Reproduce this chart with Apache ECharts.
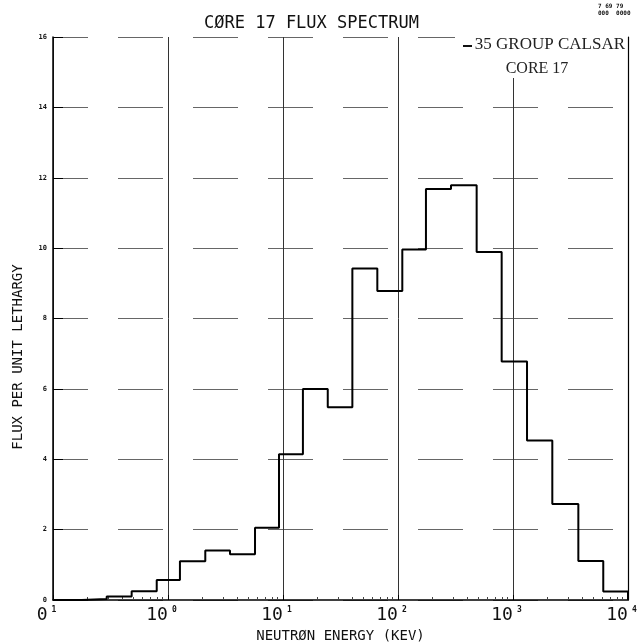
<!DOCTYPE html>
<html>
<head>
<meta charset="utf-8">
<script src="https://cdn.jsdelivr.net/npm/echarts@6/dist/echarts.min.js"></script>
<style>
  html, body { margin: 0; padding: 0; background: #fff; }
  #chart { width: 644px; height: 643px; }
</style>
</head>
<body>
<div id="chart"></div>
<script>
// Group energy boundaries (keV)
const energyEdges = [0.1, 0.178, 0.293, 0.483, 0.798, 1.27, 2.11, 3.46, 5.71, 9.23, 14.9, 24.5, 40.1, 66.1, 109, 175, 289, 483, 797, 1324, 2197, 3700, 6094, 10000];
// Flux per unit lethargy in each group (low to high energy)
const fluxValues = [0.0, 0.03, 0.1, 0.25, 0.57, 1.1, 1.41, 1.3, 2.05, 4.14, 6.0, 5.48, 9.42, 8.78, 9.96, 11.68, 11.79, 9.89, 6.78, 4.53, 2.73, 1.11, 0.24];
// Tick labels
const xTickBase = ['0', '10', '10', '10', '10', '10'];
const xTickExp = ['1', '0', '1', '2', '3', '4'];
const yTickLabels = ['0', '2', '4', '6', '8', '10', '12', '14', '16'];

const seriesName = '35 GROUP CALSAR';
const mono = 'DejaVu Sans Mono';

const stepData = [];
for (let i = 0; i < fluxValues.length; i++) stepData.push([energyEdges[i], fluxValues[i]]);
stepData.push([energyEdges[energyEdges.length - 1], fluxValues[fluxValues.length - 1]]);
stepData.push([energyEdges[energyEdges.length - 1], 0]);

const chart = echarts.init(document.getElementById('chart'), null, { renderer: 'canvas' });
chart.setOption({
  backgroundColor: '#fff',
  animation: false,
  title: {
    text: 'CØRE 17 FLUX SPECTRUM',
    left: 199, top: 10,
    textStyle: { fontFamily: mono, fontSize: 17, fontWeight: 'normal', color: '#111' }
  },
  grid: { left: 53, right: 16, top: 37, bottom: 43, containLabel: false, outerBoundsMode: 'none' },
  xAxis: {
    type: 'log', logBase: 10, min: 0.1, max: 10000,
    name: 'NEUTRØN ENERGY (KEV)', nameLocation: 'middle', nameGap: 28,
    nameTextStyle: { fontFamily: mono, fontSize: 14, color: '#111' },
    axisLine: { show: true, lineStyle: { color: '#000', width: 1.5 } },
    axisTick: { show: true, inside: true, length: 5, lineStyle: { color: '#000' } },
    minorTick: { show: true, splitNumber: 9, length: 3, lineStyle: { color: '#444' } },
    splitLine: { show: true, lineStyle: { color: '#333', width: 1 } },
    axisLabel: {
      margin: 6,
      formatter: function (v) {
        const i = Math.round(Math.log10(v)) + 1;
        return '{b|' + xTickBase[i] + '}{s|' + xTickExp[i] + '}';
      },
      rich: {
        b: { fontFamily: mono, fontSize: 18, color: '#111', lineHeight: 18 },
        s: { fontFamily: mono, fontSize: 8, fontWeight: 'bold', color: '#111', verticalAlign: 'top', lineHeight: 8, padding: [0, 13, 0, 4] }
      }
    }
  },
  yAxis: [{
    type: 'value', min: 0, max: 16, interval: 2,
    axisLine: { show: true, lineStyle: { color: '#000', width: 1.5 } },
    axisTick: { show: true, inside: true, length: 10, lineStyle: { color: '#000' } },
    splitLine: { show: true, lineStyle: { color: '#666', width: 1, type: [45, 30], dashOffset: 10 } },
    axisLabel: {
      margin: 6, fontFamily: mono, fontSize: 7, fontWeight: 'bold', color: '#111',
      formatter: function (v) { return yTickLabels[Math.round(v / 2)]; }
    }
  }, {
    type: 'value', min: 0, max: 16, interval: 2, position: 'right',
    axisLine: { show: true, onZero: false, lineStyle: { color: '#000', width: 1.2 } },
    axisTick: { show: false }, axisLabel: { show: false }, splitLine: { show: false }
  }],
  graphic: [
    { type: 'rect', shape: { x: 455, y: 36, width: 169, height: 42 }, style: { fill: '#fff' }, z: 10 },
    { type: 'line', shape: { x1: 463, y1: 46, x2: 472, y2: 46 }, style: { stroke: '#111', lineWidth: 2 }, z: 11 },
    { type: 'text', x: 625, y: 45, style: { text: seriesName, fontFamily: 'Liberation Serif', fontSize: 17, fill: '#222', align: 'right', verticalAlign: 'middle' }, z: 11 },
    { type: 'text', x: 537, y: 69, style: { text: 'CORE 17', fontFamily: 'Liberation Serif', fontSize: 16, fill: '#222', align: 'center', verticalAlign: 'middle' }, z: 11 },
    { type: 'text', x: 18, y: 357, rotation: Math.PI / 2, style: { text: 'FLUX PER UNIT LETHARGY', fontFamily: mono, fontSize: 14, fill: '#111', align: 'center', verticalAlign: 'middle' } },
    { type: 'text', x: 598, y: 3, style: { text: '7 69 79', fontFamily: mono, fontSize: 6, fontWeight: 'bold', fill: '#111' } },
    { type: 'text', x: 598, y: 10, style: { text: '000  0000', fontFamily: mono, fontSize: 6, fontWeight: 'bold', fill: '#111' } }
  ],
  series: [{
    name: seriesName,
    type: 'line',
    step: 'end',
    data: stepData,
    showSymbol: false,
    symbol: 'none',
    lineStyle: { color: '#000', width: 2 },
    z: 5
  }]
});
</script>
</body>
</html>
